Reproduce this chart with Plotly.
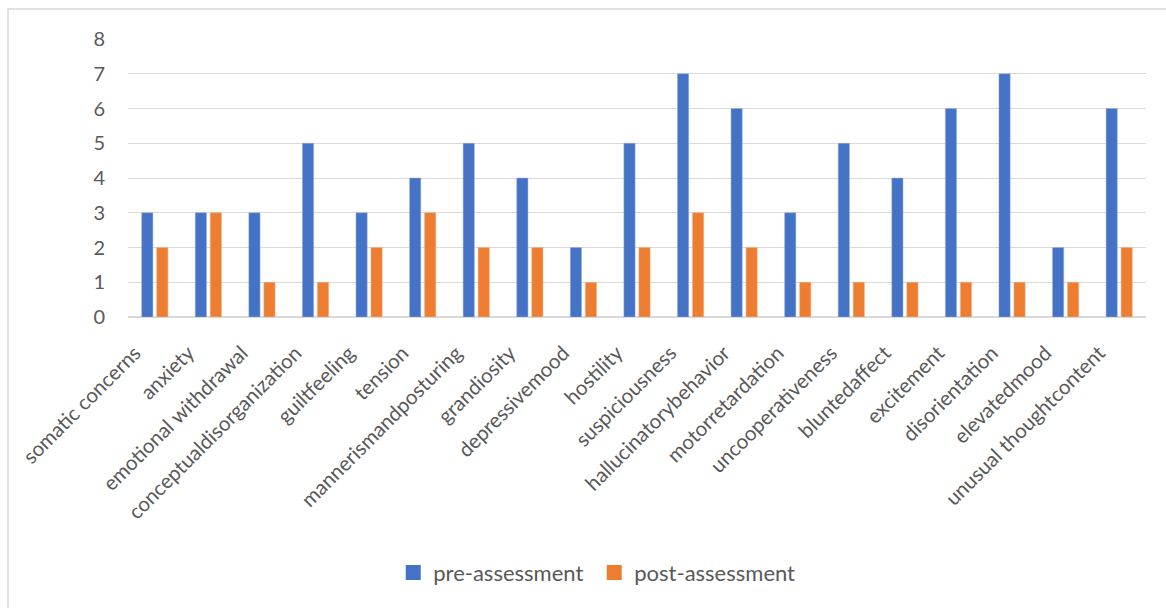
import plotly.graph_objects as go

categories = ["somatic concerns", "anxiety", "emotional withdrawal", "conceptualdisorganization",
              "guiltfeeling", "tension", "mannerismandposturing", "grandiosity", "depressivemood",
              "hostility", "suspiciousness", "hallucinatorybehavior", "motorretardation",
              "uncooperativeness", "bluntedaffect", "excitement", "disorientation",
              "elevatedmood", "unusual thoughtcontent"]
pre_assessment = [3, 3, 3, 5, 3, 4, 5, 4, 2, 5, 7, 6, 3, 5, 4, 6, 7, 2, 6]
post_assessment = [2, 3, 1, 1, 2, 3, 2, 2, 1, 2, 3, 2, 1, 1, 1, 1, 1, 1, 2]
y_ticks = [0, 1, 2, 3, 4, 5, 6, 7, 8]

FONT = "Lato"
TXT = "#595959"
BLUE = "#4472C4"
ORANGE = "#ED7D31"

fig = go.Figure()
fig.add_trace(go.Bar(x=categories, y=pre_assessment, name="pre-assessment", showlegend=False,
                     marker=dict(color=BLUE, line=dict(color="#9DB3E0", width=0.5))))
fig.add_trace(go.Bar(x=categories, y=post_assessment, name="post-assessment", showlegend=False,
                     marker=dict(color=ORANGE, line=dict(color="#F5B48A", width=0.5))))
# legend entries with square swatches
fig.add_trace(go.Scatter(x=[None], y=[None], mode="markers", name="pre-assessment",
                         marker=dict(symbol="square", size=15, color=BLUE)))
fig.add_trace(go.Scatter(x=[None], y=[None], mode="markers", name="post-assessment",
                         marker=dict(symbol="square", size=15, color=ORANGE)))

fig.update_layout(
    width=1166, height=608,
    margin=dict(l=128, r=20, t=39, b=291),
    paper_bgcolor="white", plot_bgcolor="white",
    barmode="group", bargap=0.44, bargroupgap=0.25,
    font=dict(family=FONT, color=TXT, size=20),
    showlegend=True,
    legend=dict(orientation="h", x=0.458, xanchor="center", y=-0.92, yanchor="middle",
                font=dict(size=22, color=TXT), itemwidth=30, entrywidth=156,
                traceorder="normal"),
    xaxis=dict(tickangle=-45, showgrid=False, showline=True, linecolor="#D9D9D9",
               linewidth=1, ticks="", tickfont=dict(size=20.5, color=TXT),
               ticklabelstandoff=15, ticklabelshift=-20),
    yaxis=dict(range=[0, 8], tickvals=y_ticks, showgrid=True, gridcolor="#D9D9D9",
               gridwidth=1, zeroline=True, zerolinecolor="#D9D9D9", showline=False,
               ticks="", tickfont=dict(size=20, color=TXT), ticklabelstandoff=22),
)

# outer chart border (Excel chart area)
fig.add_shape(type="rect", xref="paper", yref="paper",
              x0=(8 - 128) / 1018, x1=(1172 - 128) / 1018,
              y0=(317 - 612) / 278, y1=(317 - 9) / 278,
              line=dict(color="#D9D9D9", width=1.5), fillcolor="rgba(0,0,0,0)", layer="below")

fig.write_html("out.html")
